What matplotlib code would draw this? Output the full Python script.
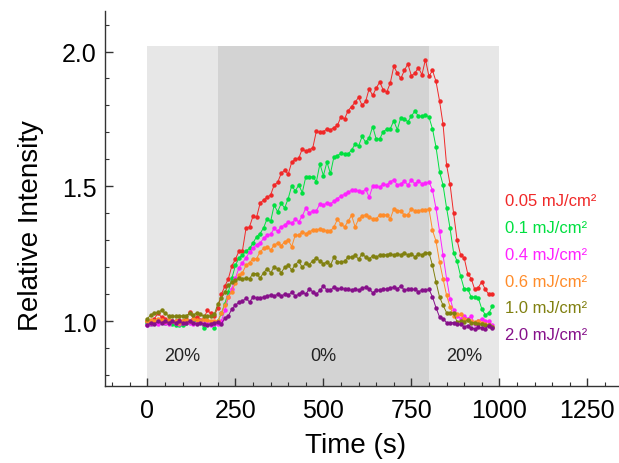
import matplotlib
matplotlib.use("Agg")
import matplotlib.pyplot as plt
from matplotlib.ticker import MultipleLocator
import numpy as np

plt.rcParams['font.family'] = ['Liberation Sans', 'DejaVu Sans']

# ---- data ----
time_s = list(range(0, 990, 10))  # 0 .. 980 s, 10 s sampling

red_005 = [1.00, 1.00, 1.01, 1.03, 1.015, 1.01, 1.005, 1.00, 1.00, 1.005,
           1.00, 1.01, 1.035, 1.01, 1.015, 1.005, 1.01, 1.04, 1.03, 1.02,
           1.05, 1.10, 1.13, 1.158, 1.206, 1.23, 1.26, 1.262, 1.344, 1.35,
           1.39, 1.385, 1.437, 1.45, 1.46, 1.468, 1.505, 1.515, 1.548, 1.56,
           1.545, 1.59, 1.60, 1.604, 1.64, 1.63, 1.635, 1.644, 1.705, 1.70,
           1.703, 1.713, 1.71, 1.718, 1.726, 1.759, 1.75, 1.78, 1.796, 1.812,
           1.83, 1.80, 1.815, 1.862, 1.837, 1.864, 1.887, 1.858, 1.85, 1.883,
           1.945, 1.92, 1.90, 1.93, 1.954, 1.91, 1.92, 1.94, 1.914, 1.97,
           1.908, 1.93, 1.889, 1.817, 1.73, 1.58, 1.507, 1.40, 1.30, 1.245,
           1.235, 1.177, 1.158, 1.118, 1.125, 1.146, 1.118, 1.10, 1.10]

green_01 = [0.995, 0.99, 1.0, 0.995, 1.0, 0.995, 1.0, 0.99, 0.985, 0.985,
            0.985, 0.995, 1.0, 0.995, 1.0, 1.0, 0.975, 0.995, 0.99, 0.975,
            1.0, 1.03, 1.065, 1.11, 1.16, 1.207, 1.235, 1.245, 1.26, 1.27,
            1.29, 1.313, 1.325, 1.346, 1.38, 1.37, 1.43, 1.406, 1.437, 1.42,
            1.455, 1.503, 1.483, 1.505, 1.477, 1.536, 1.535, 1.536, 1.517, 1.583,
            1.54, 1.59, 1.548, 1.61, 1.614, 1.623, 1.62, 1.62, 1.635, 1.656,
            1.65, 1.685, 1.664, 1.68, 1.722, 1.676, 1.676, 1.703, 1.712, 1.714,
            1.743, 1.71, 1.755, 1.75, 1.74, 1.76, 1.78, 1.76, 1.76, 1.765,
            1.757, 1.713, 1.646, 1.555, 1.505, 1.42, 1.344, 1.254, 1.222, 1.167,
            1.12, 1.12, 1.09, 1.09, 1.087, 1.046, 1.024, 1.03, 1.055]

magenta_04 = [0.985, 0.99, 0.995, 0.99, 1.0, 0.995, 0.99, 1.0, 0.995, 0.99,
              0.995, 1.0, 0.995, 0.99, 0.995, 1.0, 0.99, 0.995, 0.985, 0.99,
              0.99, 1.0, 1.04, 1.09, 1.12, 1.16, 1.198, 1.217, 1.235, 1.257,
              1.27, 1.284, 1.29, 1.307, 1.32, 1.322, 1.344, 1.333, 1.35, 1.357,
              1.369, 1.363, 1.378, 1.369, 1.39, 1.42, 1.40, 1.41, 1.41, 1.435,
              1.43, 1.44, 1.435, 1.445, 1.455, 1.465, 1.47, 1.478, 1.486, 1.486,
              1.483, 1.478, 1.49, 1.46, 1.50, 1.50, 1.497, 1.51, 1.505, 1.517,
              1.525, 1.505, 1.51, 1.52, 1.505, 1.523, 1.51, 1.52, 1.51, 1.511,
              1.517, 1.486, 1.418, 1.334, 1.245, 1.158, 1.084, 1.04, 1.02, 1.01,
              1.02, 1.01, 1.02, 0.99, 1.0, 1.01, 1.0, 1.0, 0.985]

orange_06 = [1.0, 1.005, 1.0, 1.01, 1.005, 1.0, 1.005, 1.0, 1.0, 0.995,
             1.0, 1.005, 1.0, 1.01, 1.005, 1.0, 1.01, 1.005, 1.0, 1.0,
             1.0, 1.03, 1.06, 1.09, 1.11, 1.143, 1.17, 1.18, 1.207, 1.217,
             1.232, 1.232, 1.257, 1.27, 1.277, 1.264, 1.282, 1.29, 1.28, 1.295,
             1.30, 1.277, 1.319, 1.319, 1.332, 1.325, 1.33, 1.34, 1.337, 1.343,
             1.34, 1.335, 1.334, 1.35, 1.378, 1.36, 1.35, 1.37, 1.393, 1.35,
             1.378, 1.39, 1.395, 1.385, 1.38, 1.378, 1.395, 1.393, 1.395, 1.38,
             1.416, 1.41, 1.41, 1.393, 1.395, 1.416, 1.41, 1.41, 1.413, 1.413,
             1.416, 1.337, 1.297, 1.22, 1.158, 1.096, 1.053, 1.02, 1.025, 1.025,
             1.01, 1.004, 1.0, 0.997, 1.0, 0.995, 0.988, 0.985, 0.977]

olive_10 = [1.01, 1.024, 1.03, 1.034, 1.04, 1.03, 1.02, 1.02, 1.018, 1.02,
            1.02, 1.02, 1.03, 1.024, 1.03, 1.025, 1.02, 1.02, 1.02, 1.025,
            1.065, 1.086, 1.108, 1.133, 1.145, 1.152, 1.16, 1.158, 1.16, 1.158,
            1.177, 1.177, 1.16, 1.18, 1.195, 1.18, 1.20, 1.195, 1.18, 1.20,
            1.207, 1.19, 1.21, 1.222, 1.20, 1.215, 1.21, 1.225, 1.235, 1.222,
            1.214, 1.22, 1.207, 1.238, 1.22, 1.22, 1.222, 1.238, 1.238, 1.245,
            1.23, 1.25, 1.238, 1.232, 1.242, 1.238, 1.245, 1.245, 1.247, 1.25,
            1.245, 1.25, 1.247, 1.254, 1.245, 1.25, 1.238, 1.25, 1.247, 1.254,
            1.254, 1.207, 1.146, 1.09, 1.059, 1.032, 1.03, 1.03, 0.997, 1.0,
            0.997, 1.005, 0.995, 0.995, 0.99, 0.99, 0.985, 0.985, 0.98]

purple_20 = [0.985, 0.995, 0.99, 1.0, 0.995, 1.0, 0.995, 1.0, 0.995, 1.0,
             0.995, 0.995, 1.0, 0.995, 0.99, 0.995, 0.99, 0.985, 0.99, 0.995,
             0.997, 0.99, 1.012, 1.02, 1.046, 1.059, 1.071, 1.074, 1.086, 1.071,
             1.09, 1.086, 1.086, 1.09, 1.094, 1.098, 1.094, 1.10, 1.094, 1.10,
             1.096, 1.108, 1.094, 1.10, 1.11, 1.10, 1.121, 1.108, 1.10, 1.115,
             1.131, 1.115, 1.115, 1.127, 1.12, 1.122, 1.12, 1.118, 1.115, 1.12,
             1.115, 1.122, 1.127, 1.12, 1.106, 1.115, 1.115, 1.118, 1.12, 1.122,
             1.127, 1.12, 1.131, 1.115, 1.118, 1.118, 1.118, 1.11, 1.115, 1.115,
             1.118, 1.09, 1.05, 1.016, 1.01, 0.995, 0.995, 0.995, 0.988, 0.988,
             0.98, 0.984, 0.975, 0.972, 0.978, 0.975, 0.972, 0.984, 0.975]

series_labels = ["0.05 mJ/cm²", "0.1 mJ/cm²", "0.4 mJ/cm²",
                 "0.6 mJ/cm²", "1.0 mJ/cm²", "2.0 mJ/cm²"]
series_values = [red_005, green_01, magenta_04, orange_06, olive_10, purple_20]
series_colors = ["#F02828", "#00E040", "#FF22FF", "#FF8C2A", "#808010", "#86108A"]

phase_bounds = [0, 200, 800, 1000]
phase_labels = ["20%", "0%", "20%"]
phase_colors = ["#e7e7e7", "#d3d3d3", "#e7e7e7"]

x_ticks = [0, 250, 500, 750, 1000, 1250]
y_ticks = [1.0, 1.5, 2.0]

# ---- figure ----
fig = plt.figure(figsize=(6.19, 4.64), dpi=100)
ax = fig.add_axes([0.17, 0.166, 0.83, 0.808])

ymin, ymax = 0.76, 2.15
shade_top = 2.02
for i in range(3):
    ax.fill_between([phase_bounds[i], phase_bounds[i + 1]], ymin, shade_top,
                    color=phase_colors[i], lw=0, zorder=0)
    ax.text((phase_bounds[i] + phase_bounds[i + 1]) / 2, 0.873, phase_labels[i],
            ha='center', va='center', fontsize=13, color='#222222', zorder=1)

for vals, col in zip(series_values, series_colors):
    ax.plot(time_s, vals, color=col, lw=0.7, marker='o', ms=2.2,
            mec=col, mfc=col, zorder=3)

ax.set_xlim(-120, 1340)
ax.set_ylim(ymin, ymax)
ax.set_xticks(x_ticks)
ax.set_yticks(y_ticks)
ax.set_yticklabels(["1.0", "1.5", "2.0"])
ax.xaxis.set_minor_locator(MultipleLocator(50))
ax.yaxis.set_minor_locator(MultipleLocator(0.1))
ax.tick_params(which='both', direction='in', colors='#333333', labelcolor='black')
ax.tick_params(which='major', length=6, width=1.0, labelsize=18)
ax.tick_params(axis='x', which='major', pad=9)
ax.tick_params(axis='y', which='major', pad=6)
ax.tick_params(which='minor', length=3, width=0.8)
for s in ['top', 'right']:
    ax.spines[s].set_visible(False)
for s in ['left', 'bottom']:
    ax.spines[s].set_color('#333333')
    ax.spines[s].set_linewidth(1.0)

ax.set_xlabel("Time (s)", fontsize=20)
ax.set_ylabel("Relative Intensity", fontsize=20)
ax.xaxis.set_label_coords(0.487, -0.122)
ax.yaxis.set_label_coords(-0.12, 0.43)

# legend-style coloured labels
for k, (lab, col) in enumerate(zip(series_labels, series_colors)):
    fig.text(505 / 619, 1 - (201.7 + 26.8 * k) / 464, lab, color=col,
             fontsize=12, ha='left', va='center')

fig.savefig("out.png", dpi=100)
